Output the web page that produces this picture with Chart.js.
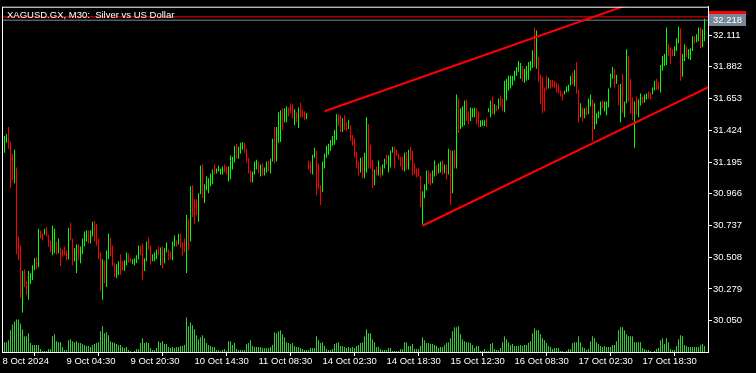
<!DOCTYPE html>
<html>
<head>
<meta charset="utf-8">
<script src="https://cdn.jsdelivr.net/npm/chart.js@4.4.1/dist/chart.umd.min.js"></script>
<style>
  html, body { margin: 0; padding: 0; background: #000; }
  canvas { display: block; }
</style>
</head>
<body>
<canvas id="chart" width="756" height="373"></canvas>
<script>
const symbolTitle = 'XAGUSD.GX, M30:  Silver vs US Dollar'
const timeLabels = ['8 Oct 2024', '9 Oct 04:30', '9 Oct 20:30', '10 Oct 14:30', '11 Oct 08:30', '14 Oct 02:30',
  '14 Oct 18:30', '15 Oct 12:30', '16 Oct 08:30', '17 Oct 02:30', '17 Oct 18:30']
const priceTicks = [30.050, 30.279, 30.508, 30.737, 30.966, 31.195, 31.424, 31.653, 31.882, 32.111]
const bid = 32.218
const ask = 32.242

// M30 bars, oldest first
const high = [
  31.383,31.397,31.447,31.340,31.255,31.283,31.155,30.657,30.593,30.408,
  30.422,30.337,30.408,30.394,30.451,30.500,30.508,30.714,30.700,30.678,
  30.714,30.728,30.671,30.628,30.735,30.714,30.621,30.643,30.579,30.564,
  30.586,30.557,30.721,30.757,30.643,30.572,30.600,30.600,30.586,30.643,
  30.693,30.700,30.700,30.700,30.764,30.771,30.749,30.643,30.543,30.493,
  30.486,30.557,30.678,30.650,30.593,30.465,30.458,30.479,30.529,30.479,
  30.486,30.543,30.536,30.500,30.493,30.500,30.522,30.593,30.593,30.607,
  30.500,30.621,30.650,30.593,30.529,30.543,30.564,30.586,30.579,30.586,
  30.572,30.614,30.564,30.550,30.621,30.664,30.628,30.678,30.678,30.614,
  30.643,30.813,30.785,31.020,31.027,30.927,30.927,30.970,31.169,31.177,
  31.034,31.091,31.077,31.112,31.141,31.177,31.148,31.169,31.148,31.162,
  31.177,31.162,31.162,31.241,31.233,31.312,31.326,31.305,31.333,31.340,
  31.333,31.290,31.226,31.134,31.127,31.198,31.212,31.198,31.177,31.184,
  31.155,31.198,31.205,31.219,31.362,31.447,31.447,31.554,31.568,31.582,
  31.582,31.596,31.589,31.618,31.611,31.575,31.554,31.589,31.625,31.575,
  31.561,31.547,31.205,31.198,31.248,31.298,31.276,31.184,31.027,31.198,
  31.255,31.312,31.326,31.354,31.383,31.426,31.539,31.539,31.532,31.511,
  31.532,31.482,31.497,31.461,31.390,31.369,31.269,31.198,31.226,31.233,
  31.262,31.518,31.468,31.319,31.212,31.141,31.162,31.205,31.162,31.177,
  31.219,31.248,31.241,31.276,31.305,31.305,31.283,31.255,31.233,31.233,
  31.262,31.269,31.283,31.305,31.276,31.184,31.148,31.148,31.098,30.984,
  31.034,31.134,31.134,31.120,31.134,31.205,31.169,31.184,31.198,31.205,
  31.177,31.177,31.290,31.283,31.276,31.283,31.682,31.653,31.582,31.596,
  31.639,31.646,31.561,31.589,31.582,31.589,31.582,31.561,31.497,31.497,
  31.497,31.511,31.582,31.639,31.668,31.611,31.603,31.653,31.675,31.653,
  31.781,31.796,31.817,31.817,31.817,31.853,31.881,31.924,31.910,31.888,
  31.867,31.888,31.917,31.924,32.002,32.166,32.144,31.952,31.824,31.810,
  31.732,31.817,31.803,31.789,31.789,31.781,31.767,31.753,31.710,31.696,
  31.710,31.739,31.753,31.817,31.838,31.860,31.917,31.717,31.618,31.589,
  31.582,31.596,31.653,31.682,31.646,31.618,31.547,31.561,31.632,31.639,
  31.632,31.632,31.725,31.831,31.881,31.867,31.824,31.753,31.760,31.831,
  31.632,32.009,31.959,31.796,31.660,31.632,31.668,31.646,31.689,31.668,
  31.682,31.689,31.703,31.696,31.732,31.781,31.796,31.774,31.895,31.959,
  31.974,32.166,32.045,32.023,32.009,32.030,32.088,32.173,32.158,31.974,
  32.045,32.030,32.009,32.016,32.102,32.102,32.116,32.166,32.166,32.151,32.230
]
const low = [
  31.262,31.333,31.290,31.006,31.062,31.041,30.529,30.486,30.216,30.109,
  30.294,30.237,30.201,30.315,30.344,30.415,30.422,30.436,30.643,30.628,
  30.671,30.657,30.586,30.543,30.522,30.536,30.529,30.536,30.444,30.508,
  30.522,30.486,30.493,30.628,30.451,30.479,30.394,30.486,30.465,30.529,
  30.586,30.621,30.607,30.607,30.657,30.621,30.593,30.493,30.266,30.201,
  30.322,30.294,30.493,30.515,30.444,30.365,30.358,30.379,30.379,30.415,
  30.408,30.451,30.472,30.472,30.458,30.451,30.465,30.493,30.522,30.344,
  30.408,30.479,30.564,30.458,30.479,30.479,30.493,30.522,30.451,30.429,
  30.465,30.543,30.486,30.493,30.486,30.586,30.586,30.600,30.579,30.522,
  30.543,30.394,30.557,30.621,30.799,30.749,30.813,30.764,30.963,30.934,
  30.899,30.991,30.970,31.020,31.034,31.105,31.112,31.127,31.105,31.105,
  31.120,31.105,31.055,31.070,31.141,31.191,31.219,31.219,31.255,31.283,
  31.262,31.191,31.112,31.048,31.048,31.105,31.141,31.112,31.091,31.098,
  31.098,31.120,31.127,31.112,31.198,31.184,31.198,31.333,31.340,31.426,
  31.482,31.482,31.525,31.547,31.511,31.461,31.482,31.440,31.518,31.518,
  31.497,31.504,31.141,31.112,31.105,31.226,30.956,30.998,30.885,30.977,
  31.148,31.226,31.248,31.276,31.312,31.319,31.354,31.454,31.411,31.411,
  31.426,31.418,31.433,31.347,31.312,31.226,31.148,31.098,31.120,31.077,
  31.077,31.120,31.148,31.148,31.006,31.027,31.098,31.098,31.084,31.098,
  31.148,31.177,31.120,31.155,31.262,31.148,31.241,31.212,31.162,31.134,
  31.127,31.141,31.141,31.205,31.098,31.105,31.084,31.091,30.870,30.742,
  30.934,30.991,31.034,31.027,31.041,31.091,31.098,31.112,31.120,31.105,
  31.112,31.070,31.105,30.885,30.970,31.148,31.148,31.404,31.433,31.447,
  31.461,31.490,31.468,31.490,31.518,31.518,31.468,31.447,31.447,31.454,
  31.454,31.447,31.554,31.518,31.539,31.539,31.561,31.575,31.596,31.561,
  31.554,31.639,31.710,31.725,31.746,31.781,31.817,31.846,31.796,31.774,
  31.767,31.781,31.789,31.853,31.874,31.881,31.867,31.774,31.611,31.547,
  31.561,31.710,31.725,31.725,31.732,31.732,31.696,31.689,31.668,31.639,
  31.682,31.696,31.703,31.746,31.753,31.739,31.689,31.482,31.518,31.490,
  31.511,31.532,31.539,31.596,31.347,31.433,31.468,31.511,31.532,31.582,
  31.561,31.532,31.589,31.732,31.796,31.732,31.760,31.603,31.482,31.547,
  31.518,31.618,31.632,31.547,31.497,31.298,31.539,31.518,31.603,31.618,
  31.625,31.646,31.653,31.646,31.682,31.710,31.717,31.717,31.696,31.853,
  31.888,31.895,31.959,31.903,31.959,31.959,31.995,32.052,31.781,31.810,
  31.924,31.952,31.938,31.931,31.995,32.052,32.059,32.066,32.016,32.023,32.066
]
// 1 = bullish bar, 0 = bearish bar
const bullish = [
  1,1,0,0,0,1,0,0,0,1, 0,0,1,1,1,1,0,1,0,0, 1,0,0,0,1,1,0,1,0,0, 0,0,1,0,0,1,1,0,1,1,
  1,1,0,1,1,0,0,0,0,1, 0,1,1,0,0,0,1,1,0,0, 1,1,0,0,1,1,1,1,0,0, 1,1,0,0,1,1,1,0,1,0,
  1,1,0,0,1,1,0,1,0,0, 0,1,0,1,0,0,0,1,1,0, 1,1,1,1,1,0,1,1,1,1, 0,0,1,1,1,1,0,1,1,1,
  0,0,0,0,1,1,1,0,1,0, 1,1,0,1,1,0,1,1,1,0, 1,1,0,0,0,1,0,1,0,0, 0,1,0,0,1,1,0,0,0,1,
  1,1,1,1,1,1,1,0,0,1, 0,0,1,0,0,0,0,0,1,0, 1,1,0,0,0,1,0,1,0,1, 1,0,1,1,1,0,0,0,0,0,
  1,0,1,0,0,0,0,0,0,1, 1,1,0,0,1,1,0,1,1,0, 1,0,1,0,1,0,1,0,1,1, 1,0,0,1,1,1,0,0,1,1,
  1,0,1,1,0,1,0,1,0,0, 1,1,1,1,1,1,1,1,1,0, 1,1,1,1,1,0,1,0,0,0, 0,0,1,0,0,0,0,0,0,0,
  1,1,1,1,0,1,0,0,1,0, 1,0,1,1,0,1,1,1,1,0, 1,1,1,1,1,0,1,0,1,0, 1,1,0,0,0,1,0,1,1,0,
  1,1,0,0,1,1,0,0,1,1, 1,1,0,0,0,1,1,1,0,1, 1,0,1,1,1,0,1,1,0,1, 1
]
const tickVolume = [
  1000,1000,1200,2200,2800,3100,3300,3300,2900,2300, 1600,1600,1900,900,700,700,700,700,300,100,
  100,100,300,300,1600,1800,1100,1000,1000,500, 200,200,1200,1300,1100,1000,1100,900,900,800,
  700,600,600,500,700,800,900,1000,2100,2600, 1900,2000,1700,1100,1000,900,800,700,700,500,
  400,500,200,100,0,100,300,300,900,1400, 900,1000,900,400,200,200,400,1100,900,1100,
  800,800,500,400,500,400,500,500,600,600, 700,3500,2600,3000,2700,2300,1700,1300,1500,1700,
  1400,900,700,600,500,500,200,200,100,200, 300,100,1100,1100,700,900,300,200,200,200,
  200,800,900,1200,600,500,500,500,500,400, 400,400,400,500,700,2000,1900,2100,2200,1800,
  1500,1000,900,800,900,600,500,500,400,300, 200,200,200,400,400,400,1600,1200,900,1000,
  600,300,200,200,300,800,900,1000,600,600, 500,400,500,400,500,400,600,700,900,1000,
  1600,2300,1900,1900,1300,1000,500,500,300,200, 200,200,400,400,100,100,100,100,300,300,
  1000,1000,600,600,800,300,300,300,600,1500, 1200,900,900,800,800,700,600,400,500,500,
  700,900,1000,1400,2100,2500,2500,2600,1800,1300, 1100,1000,1000,900,700,400,600,600,100,100,
  300,100,100,800,900,300,200,200,400,1000, 1600,1300,1000,700,800,600,600,600,700,600,
  700,700,900,1100,1900,2400,2200,2200,1800,1400, 1200,900,600,500,300,400,400,400,100,100,
  0,100,300,300,900,1000,1000,1600,1000,500, 400,200,300,1100,1600,1400,1000,800,600,500,
  600,500,500,500,700,700,1100,2200,2500,2500, 2200,1800,1600,1600,1600,1000,1000,1000,1000,400,
  300,200,200,100,0,100,300,400,1200,1400, 800,1400,1000,300,200,200,600,1300,1700,1600,
  700,600,500,500,500,500,500,500,700,800,600
]
// trend channel anchors (bar index, price)
const upperChannel = [{ x: 160, y: 31.561 }, { x: 352, y: 32.533 }]
const lowerChannel = [{ x: 209, y: 30.735 }, { x: 352, y: 31.735 }]

Chart.defaults.font.family = "'Liberation Sans', Arial, sans-serif"
Chart.defaults.font.size = 9.5
Chart.defaults.color = '#fff'

const candles = high.map((h, i) => ({ x: i, y: [low[i], h] }))
const volumes = tickVolume.map((v, i) => ({ x: i, y: v }))
const firstX = -1.25
const lastX = high.length + 0.75

const mtFrame = {
  id: 'mtFrame',
  afterDraw(chart) {
    const { ctx, chartArea: a, scales } = chart
    ctx.save()
    ctx.strokeStyle = '#fff'
    ctx.lineWidth = 1
    ctx.strokeRect(a.left + 0.5, a.top + 0.5, a.right - a.left, a.bottom - a.top)

    const yAsk = scales.y.getPixelForValue(ask)
    const yBid = scales.y.getPixelForValue(bid)
    ctx.fillStyle = '#ff0000'
    ctx.fillRect(a.right + 1, Math.round(yAsk) - 6, 37, 12)
    ctx.fillStyle = '#778899'
    ctx.fillRect(a.right + 1, Math.round(yBid) - 6, 37, 12)
    ctx.fillStyle = '#fff'
    ctx.font = "9.5px 'Liberation Sans', Arial, sans-serif"
    ctx.textAlign = 'left'
    ctx.textBaseline = 'middle'
    ctx.fillText(bid.toFixed(3), a.right + 5, yBid)

    ctx.textBaseline = 'alphabetic'
    ctx.fillText(symbolTitle, a.left + 5, a.top + 11)
    ctx.restore()
  }
}

new Chart(document.getElementById('chart'), {
  type: 'bar',
  data: {
    datasets: [
      {
        type: 'line', data: upperChannel, borderColor: '#ff0000', borderWidth: 2,
        pointRadius: 0, clip: 0, order: 0
      },
      {
        type: 'line', data: lowerChannel, borderColor: '#ff0000', borderWidth: 2,
        pointRadius: 0, clip: 0, order: 0
      },
      {
        type: 'line', data: [{ x: firstX, y: ask }, { x: lastX, y: ask }], borderColor: '#ff0000',
        borderWidth: 1, pointRadius: 0, clip: 0, order: 1
      },
      {
        type: 'line', data: [{ x: firstX, y: bid }, { x: lastX, y: bid }], borderColor: '#778899',
        borderWidth: 1, pointRadius: 0, clip: 0, order: 1
      },
      {
        data: candles,
        backgroundColor: bullish.map(b => b ? '#00ff00' : '#ff0000'),
        barThickness: 1, grouped: false, borderWidth: 0, inflateAmount: 0, order: 2
      },
      {
        data: volumes, yAxisID: 'yv', backgroundColor: '#32cd32',
        barThickness: 1, grouped: false, borderWidth: 0, inflateAmount: 0, order: 3
      }
    ]
  },
  options: {
    responsive: false,
    animation: false,
    devicePixelRatio: 1,
    layout: { padding: { left: 2, top: 2, right: 0, bottom: 0 } },
    plugins: { legend: { display: false }, tooltip: { enabled: false } },
    scales: {
      x: {
        type: 'linear', min: firstX, max: lastX, offset: false,
        grid: { drawOnChartArea: false, color: '#fff', tickLength: 4 },
        border: { color: '#fff' },
        ticks: {
          autoSkip: false, maxRotation: 0, minRotation: 0, align: 'start', padding: 0,
          callback: (v, i) => timeLabels[i]
        },
        afterBuildTicks: s => { s.ticks = timeLabels.map((t, k) => ({ value: k * 32 - 1 })) },
        afterFit: s => { s.height = 21 }
      },
      y: {
        position: 'right', min: 29.8244, max: 32.3153,
        grid: { drawOnChartArea: false, color: '#fff', tickLength: 4 },
        border: { color: '#fff' },
        ticks: { padding: 1, callback: v => v.toFixed(3) },
        afterBuildTicks: s => { s.ticks = priceTicks.map(v => ({ value: v })) },
        afterFit: s => { s.width = 48 }
      },
      yv: { display: false, min: 0, max: 35000 }
    }
  },
  plugins: [mtFrame]
})
</script>
</body>
</html>
